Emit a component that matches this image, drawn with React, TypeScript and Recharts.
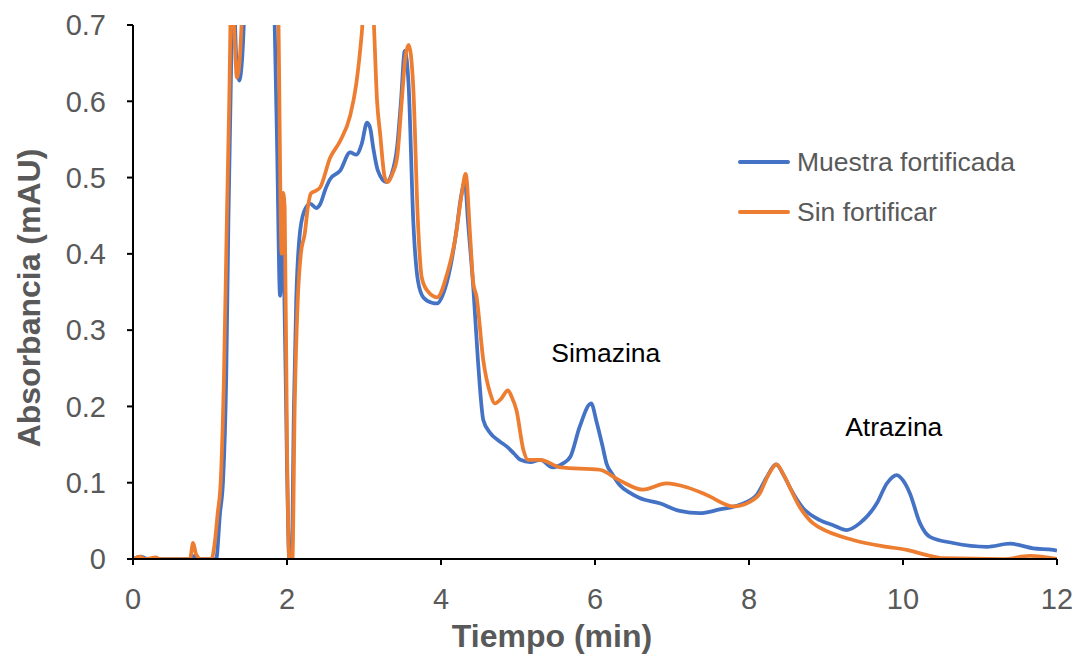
import React from 'react';
import {
  LineChart,
  Line,
  XAxis,
  YAxis,
  ReferenceDot,
  Label,
} from 'recharts';

// Chromatogram of the fortified sample (retention time in min, absorbance in mAU)
const fortifiedTime = [
  0, 0.1, 0.2, 0.75, 0.8, 0.85, 1.08, 1.13, 1.17, 1.21, 1.24, 1.27, 1.3, 1.34, 1.38, 1.42, 1.46,
  1.6, 1.8, 1.84, 1.87, 1.91, 1.94, 1.96, 2.0, 2.03, 2.06, 2.09, 2.12, 2.16, 2.22, 2.3, 2.38,
  2.43, 2.5, 2.56, 2.69, 2.82, 2.9, 2.97, 3.04, 3.08, 3.12, 3.18, 3.29, 3.36, 3.43, 3.48, 3.53,
  3.58, 3.64, 3.7, 3.77, 3.88, 3.95, 4.03, 4.12, 4.2, 4.26, 4.31, 4.35, 4.42, 4.48, 4.55, 4.64,
  4.75, 4.86, 4.95, 5.03, 5.16, 5.29, 5.45, 5.58, 5.68, 5.8, 5.95, 6.02, 6.1, 6.15, 6.22, 6.32,
  6.45, 6.58, 6.84, 7.1, 7.36, 7.62, 7.88, 8.1, 8.23, 8.35, 8.45, 8.53, 8.7, 8.92, 9.1, 9.27,
  9.44, 9.66, 9.79, 9.92, 10.0, 10.09, 10.22, 10.35, 10.65, 11.09, 11.39, 11.69, 11.95, 12,
];
const fortifiedAbs = [
  0, 0.003, 0, 0, 0.004, 0, 0, 0.06, 0.103, 0.234, 0.45, 0.62, 0.76, 0.66, 0.627, 0.66, 0.75,
  1.0, 0.9, 0.7, 0.55, 0.345, 0.41, 0.38, 0.12, 0, 0, 0.2, 0.34, 0.42, 0.455, 0.466, 0.46,
  0.465, 0.485, 0.498, 0.509, 0.533, 0.53, 0.544, 0.572, 0.565, 0.539, 0.509, 0.494, 0.505, 0.54, 0.6, 0.666,
  0.62, 0.443, 0.365, 0.343, 0.336, 0.335, 0.348, 0.382, 0.43, 0.475, 0.495, 0.443, 0.355, 0.26, 0.182, 0.165,
  0.155, 0.147, 0.138, 0.13, 0.127, 0.13, 0.12, 0.125, 0.134, 0.173, 0.204, 0.18, 0.147, 0.125, 0.112, 0.097,
  0.087, 0.08, 0.073, 0.063, 0.06, 0.065, 0.071, 0.084, 0.107, 0.124, 0.11, 0.094, 0.067, 0.051, 0.044, 0.038,
  0.047, 0.073, 0.099, 0.11, 0.103, 0.086, 0.047, 0.029, 0.021, 0.016, 0.02, 0.014, 0.012, 0.011,
];

// Chromatogram of the unfortified sample
const blankTime = [
  0, 0.1, 0.15, 0.3, 0.35, 0.74, 0.78, 0.82, 0.88, 1.02, 1.06, 1.1, 1.14, 1.18, 1.22, 1.25, 1.28,
  1.32, 1.35, 1.39, 1.43, 1.6, 1.85, 1.89, 1.93, 1.95, 1.97, 2.0, 2.03, 2.07, 2.1, 2.14, 2.18,
  2.23, 2.27, 2.31, 2.38, 2.43, 2.56, 2.69, 2.82, 2.9, 2.97, 3.05, 3.12, 3.17, 3.21, 3.27, 3.31,
  3.37, 3.43, 3.49, 3.54, 3.58, 3.61, 3.64, 3.7, 3.75, 3.82, 3.95, 4.08, 4.18, 4.27, 4.32, 4.38,
  4.42, 4.46, 4.55, 4.64, 4.7, 4.78, 4.87, 4.92, 4.98, 5.07, 5.13, 5.29, 5.55, 6.06, 6.32, 6.62,
  6.93, 7.19, 7.45, 7.8, 8.01, 8.14, 8.25, 8.36, 8.45, 8.66, 8.83, 8.92, 9.35, 9.79, 10.05, 10.31,
  10.52, 11.3, 11.65, 12,
];
const blankAbs = [
  0, 0.003, 0, 0.002, 0, 0, 0.021, 0.006, 0, 0, 0.02, 0.06, 0.103, 0.234, 0.45, 0.6, 0.76,
  0.68, 0.631, 0.66, 0.75, 1.0, 0.95, 0.7, 0.4, 0.48, 0.46, 0.15, 0, 0, 0.2, 0.34, 0.4,
  0.426, 0.46, 0.479, 0.483, 0.487, 0.526, 0.548, 0.581, 0.623, 0.688, 0.8, 0.72, 0.6, 0.557, 0.5, 0.494,
  0.505, 0.526, 0.6, 0.66, 0.674, 0.66, 0.618, 0.443, 0.369, 0.352, 0.343, 0.374, 0.417, 0.479, 0.505, 0.421,
  0.361, 0.345, 0.26, 0.217, 0.204, 0.21, 0.221, 0.212, 0.195, 0.143, 0.13, 0.13, 0.12, 0.117, 0.103, 0.091,
  0.099, 0.094, 0.084, 0.069, 0.075, 0.086, 0.11, 0.124, 0.11, 0.068, 0.047, 0.041, 0.025, 0.016, 0.012, 0.005,
  0.001, 0, 0.004, 0,
];

const xTicks = [0, 2, 4, 6, 8, 10, 12];
const yTicks = [0, 0.1, 0.2, 0.3, 0.4, 0.5, 0.6, 0.7];

const seriesNames = ['Muestra fortificada', 'Sin fortificar'];
const seriesColors = ['#4472C4', '#ED7D31'];

// Peak annotations: label, retention time and absorbance where the label sits
const peakLabels = ['Simazina', 'Atrazina'];
const peakLabelTime = [6.14, 9.88];
const peakLabelAbs = [0.27, 0.173];

const toPoints = (t: number[], a: number[]) => t.map((x, i) => ({ t: x, a: a[i] }));
const fortifiedData = toPoints(fortifiedTime, fortifiedAbs);
const blankData = toPoints(blankTime, blankAbs);

const FONT = '"Liberation Sans", Arial, sans-serif';
const GRAY = '#595959';
const TICK_FONT = 29;
const TEXT_FONT = 26.5;

const LegendBox = () => (
  <div style={{ position: 'absolute', left: 738, top: 137, fontFamily: FONT }}>
    {seriesNames.map((name, i) => (
      <div
        key={name}
        style={{ display: 'flex', alignItems: 'center', height: 50, whiteSpace: 'nowrap' }}
      >
        <span
          style={{
            display: 'inline-block',
            width: 52,
            height: 3.5,
            background: seriesColors[i],
            borderRadius: 2,
            marginRight: 7,
          }}
        />
        <span style={{ fontSize: TEXT_FONT, color: GRAY }}>{name}</span>
      </div>
    ))}
  </div>
);

const XTitle = (props: any) => {
  const vb = props.viewBox;
  return (
    <text
      x={vb.x + vb.width / 2 - 43}
      y={vb.y + 88}
      textAnchor="middle"
      fontFamily={FONT}
      fontSize={32}
      fontWeight="bold"
      fill={GRAY}
    >
      Tiempo (min)
    </text>
  );
};

const YTitle = (props: any) => {
  const vb = props.viewBox;
  const cx = 40;
  const cy = vb.y + vb.height / 2 + 6;
  return (
    <text
      x={cx}
      y={cy}
      transform={`rotate(-90 ${cx} ${cy})`}
      textAnchor="middle"
      fontFamily={FONT}
      fontSize={32}
      fontWeight="bold"
      fill={GRAY}
    >
      Absorbancia (mAU)
    </text>
  );
};

export default function App() {
  return (
    <div style={{ position: 'absolute', left: 0, top: 0, width: 1080, height: 657, background: '#fff', fontFamily: FONT }}>
      <LineChart width={1080} height={657} margin={{ top: 25, right: 23, bottom: 0, left: 0 }}>
        <XAxis
          dataKey="t"
          type="number"
          domain={[0, 12]}
          ticks={xTicks}
          allowDataOverflow
          height={98}
          stroke="#000"
          strokeWidth={2}
          tickSize={6}
          tickMargin={23}
          tick={{ fill: GRAY, fontSize: TICK_FONT, fontFamily: FONT }}
          tickLine={{ stroke: '#000', strokeWidth: 2 }}
        >
          <Label content={<XTitle />} />
        </XAxis>
        <YAxis
          dataKey="a"
          type="number"
          domain={[0, 0.7]}
          ticks={yTicks}
          allowDataOverflow
          width={133}
          stroke="#000"
          strokeWidth={2}
          tickSize={6}
          tickMargin={21}
          tickFormatter={(v: number) => (v === 0 ? '0' : v.toFixed(1))}
          tick={{ fill: GRAY, fontSize: TICK_FONT, fontFamily: FONT }}
          tickLine={{ stroke: '#000', strokeWidth: 2 }}
        >
          <Label content={<YTitle />} />
        </YAxis>
        <Line
          data={fortifiedData}
          dataKey="a"
          name={seriesNames[0]}
          type="monotone"
          stroke={seriesColors[0]}
          strokeWidth={3.75}
          dot={false}
          isAnimationActive={false}
        />
        <Line
          data={blankData}
          dataKey="a"
          name={seriesNames[1]}
          type="monotone"
          stroke={seriesColors[1]}
          strokeWidth={3.75}
          dot={false}
          isAnimationActive={false}
        />
        {peakLabels.map((name, i) => (
          <ReferenceDot
            key={name}
            x={peakLabelTime[i]}
            y={peakLabelAbs[i]}
            r={0}
            fill="none"
            stroke="none"
            label={{ value: name, position: 'center', fill: '#000', fontSize: TEXT_FONT, fontFamily: FONT }}
          />
        ))}
      </LineChart>
      <LegendBox />
    </div>
  );
}
